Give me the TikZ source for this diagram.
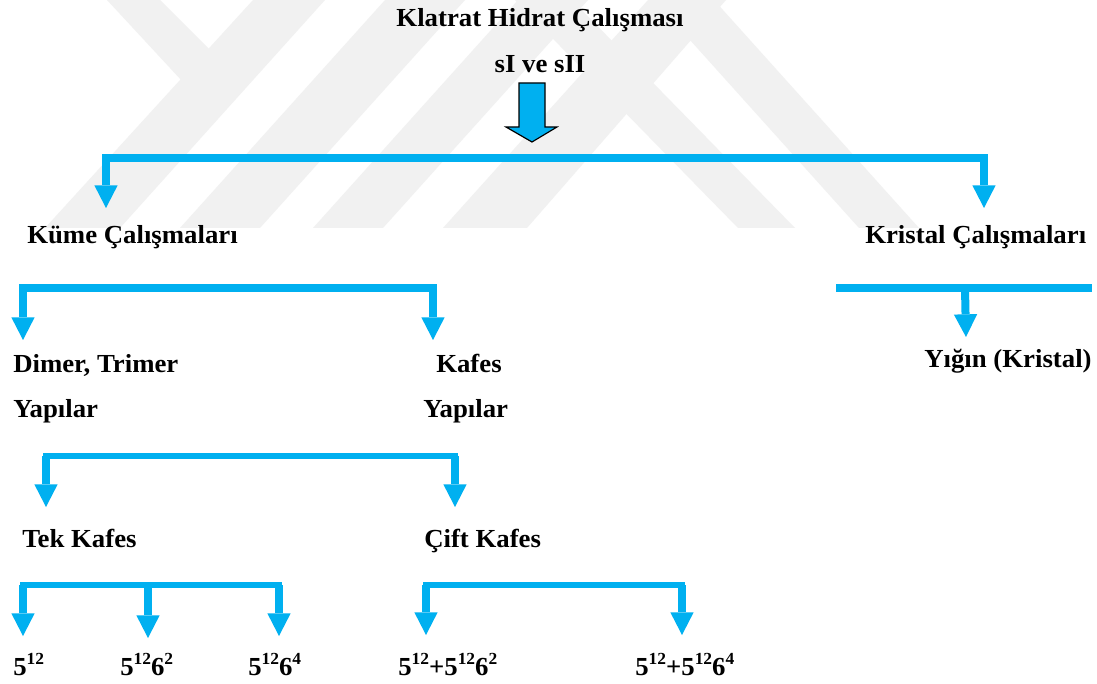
\documentclass[tikz,border=0pt]{standalone}
\usepackage{fontspec}
\setmainfont{Liberation Serif}[FakeStretch=1.03]
\usetikzlibrary{arrows.meta}
\definecolor{cyanb}{RGB}{0,176,240}
\definecolor{wmgray}{RGB}{241,241,241}
% raised, smaller digits for the cage notation
\newcommand\supr[1]{\raisebox{7.8pt}{\fontsize{12.7}{13}\selectfont #1}}
\begin{document}
\begin{tikzpicture}[x=0.75pt,y=-0.75pt,
  lbl/.style={anchor=base west, inner sep=0pt, font=\fontsize{19.5}{22}\selectfont\bfseries},
  bar/.style={draw=cyanb, line width=6pt, line cap=rect},
  thinbar/.style={draw=cyanb, line width=5pt, line cap=rect},
  drop/.style={draw=cyanb, line width=6pt,
    -{Triangle[width=17.5pt,length=17pt,line width=0pt]}},
  bigarrow/.style={draw=black, line width=0.9pt, fill=cyanb, line join=miter},
  wm/.style={fill=wmgray, draw=none}]

% canvas
\fill[white] (0,0) rectangle (1097,684);
\useasboundingbox (0,0) rectangle (1097,684);

% faint logo in the background
\fill[wm] (107,0) -- (160,0) -- (225,65) -- (195,95) -- cycle;
\fill[wm] (253,0) -- (325,0) -- (120,228) -- (45,228) -- cycle;
\fill[wm] (385,0) -- (465,0) -- (260,228) -- (180,228) -- cycle;
\fill[wm] (518,0) -- (588,0) -- (383,228) -- (313,228) -- cycle;
\fill[wm] (515,0) -- (572,0) -- (795,228) -- (738,228) -- cycle;
\fill[wm] (648,0) -- (726,0) -- (527,228) -- (443,228) -- cycle;
\fill[wm] (654,0) -- (714,0) -- (919,228) -- (859,228) -- cycle;

% text nodes
\node[lbl, anchor=base] (title) at (540,27) {Klatrat Hidrat Çalışması};
\node[lbl, anchor=base] (types) at (540,73) {sI ve sII};
\node[lbl] (kume) at (27,244) {Küme Çalışmaları};
\node[lbl] (kristal) at (865,244) {Kristal Çalışmaları};
\node[lbl] (dimer) at (13,373) {Dimer, Trimer};
\node[lbl] (dimer2) at (13,418) {Yapılar};
\node[lbl] (kafes) at (436,373) {Kafes};
\node[lbl] (kafes2) at (423,418) {Yapılar};
\node[lbl] (yigin) at (924,368) {Yığın (Kristal)};
\node[lbl] (tek) at (22,547) {Tek Kafes};
\node[lbl] (cift) at (424,547) {Çift Kafes};
\node[lbl] (c1) at (13,675) {5\supr{12}};
\node[lbl] (c2) at (120,675) {5\supr{12}6\supr{2}};
\node[lbl] (c3) at (248,675) {5\supr{12}6\supr{4}};
\node[lbl] (c4) at (398,675) {5\supr{12}+5\supr{12}6\supr{2}};
\node[lbl] (c5) at (635,675) {5\supr{12}+5\supr{12}6\supr{4}};

% block arrow below the title
\coordinate (bigtop) at (532,83);
\coordinate (bigtip) at (532,142);
\draw[bigarrow] (bigtop) ++(-13,0) -- ++(26,0) -- ++(0,44) -- ++(12,0)
  -- (bigtip) -- ++(-26,-15) -- ++(13,0) -- cycle;

% first split
\coordinate (s1w) at (106,158);
\coordinate (s1e) at (984,158);
\coordinate (in-kume) at (106,208);
\coordinate (in-kristal) at (984,208);
\draw[bar] (s1w) -- (s1e);
\draw[drop] (s1w) -- (in-kume);
\draw[drop] (s1e) -- (in-kristal);

% cluster studies split
\coordinate (s2w) at (23,288);
\coordinate (s2e) at (433,288);
\coordinate (in-dimer) at (23,340);
\coordinate (in-kafes) at (433,340);
\draw[bar] (s2w) -- (s2e);
\draw[drop] (s2w) -- (in-dimer);
\draw[drop] (s2e) -- (in-kafes);

% crystal studies split
\coordinate (s3w) at (840,288);
\coordinate (s3e) at (1088,288);
\coordinate (s3m) at (965,288);
\coordinate (in-yigin) at (966,337);
\draw[bar] (s3w) -- (s3e);
\draw[drop] (s3m) -- (in-yigin);

% cage structures split
\coordinate (s4w) at (46,456);
\coordinate (s4e) at (455,456);
\coordinate (in-tek) at (46,507);
\coordinate (in-cift) at (455,507);
\draw[thinbar] (s4w) -- (s4e);
\draw[drop] (s4w) -- (in-tek);
\draw[drop] (s4e) -- (in-cift);

% single cages
\coordinate (s5w) at (23,585);
\coordinate (s5m) at (148,585);
\coordinate (s5e) at (279,585);
\coordinate (in-c1) at (23,636);
\coordinate (in-c2) at (148,638);
\coordinate (in-c3) at (279,636);
\draw[thinbar] (s5w) -- (s5e);
\draw[drop] (s5w) -- (in-c1);
\draw[drop] (s5m) -- (in-c2);
\draw[drop] (s5e) -- (in-c3);

% double cages
\coordinate (s6w) at (426,585);
\coordinate (s6e) at (682,585);
\coordinate (in-c4) at (426,635);
\coordinate (in-c5) at (682,635);
\draw[thinbar] (s6w) -- (s6e);
\draw[drop] (s6w) -- (in-c4);
\draw[drop] (s6e) -- (in-c5);
\end{tikzpicture}
\end{document}
